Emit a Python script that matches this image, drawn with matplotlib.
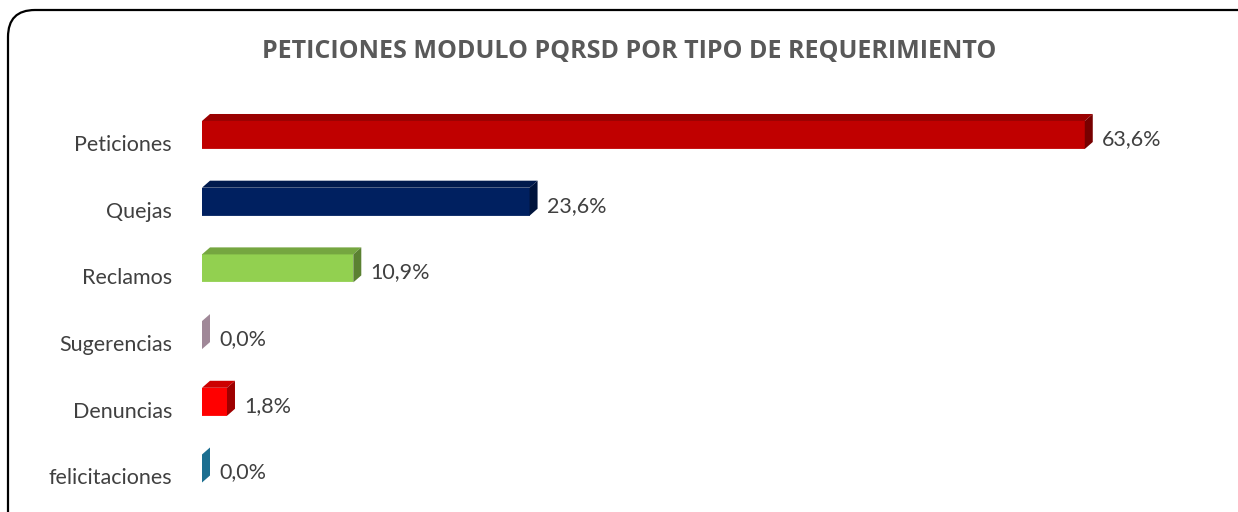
import numpy as np
import matplotlib.pyplot as plt
from matplotlib.patches import Polygon, FancyBboxPatch
from matplotlib.colors import to_rgb

# data
categorias = ['Peticiones', 'Quejas', 'Reclamos', 'Sugerencias', 'Denuncias', 'felicitaciones']
porcentajes = [63.6, 23.6, 10.9, 0.0, 1.8, 0.0]
colores = ['#C00000', '#002060', '#92D050', '#A08898', '#FF0000', '#1B6E90']
titulo = 'PETICIONES MODULO PQRSD POR TIPO DE REQUERIMIENTO'

plt.rcParams['font.family'] = ['Lato', 'DejaVu Sans']

fig = plt.figure(figsize=(12.38, 5.12), dpi=100)
W, H = 1238., 512.

# rounded frame round the whole chart
frame = FancyBboxPatch((0.08, -0.5), 12.6, 5.12 - 0.1 + 0.5,
                       boxstyle='round,pad=0,rounding_size=0.27',
                       transform=fig.dpi_scale_trans, fc='none', ec='black', lw=1.6)
fig.patches.append(frame)

# axes placed in pixels: left 202, right 1202, top 100, bottom 510
ax = fig.add_axes([202 / W, (H - 510) / H, 1000 / W, 410 / H])
ax.set_facecolor('none')
px_x = 13.88   # pixels per percent
px_y = 66.7    # pixels per category
ax.set_xlim(0, 1000 / px_x)
ax.set_ylim((510 - 143) / px_y, (100 - 143) / px_y)

pos = np.arange(len(categorias))
alto = 0.42
off = 0.12
dx = 8 / px_x
dy = 7 / px_y


def shade(c, f):
    r, g, b = to_rgb(c)
    return (r * f, g * f, b * f)


for i, (v, c) in enumerate(zip(porcentajes, colores)):
    y0 = pos[i] - off - alto / 2   # top of front face (inverted axis)
    y1 = pos[i] - off + alto / 2   # bottom of front face
    if v > 0:
        ax.barh(pos[i] - off, v, height=alto, color=c, lw=0, zorder=3)
        top = Polygon([(0, y0), (dx, y0 - dy), (v + dx, y0 - dy), (v, y0)],
                      closed=True, fc=shade(c, 0.8), ec='none', zorder=3)
        ax.add_patch(top)
        ax.plot([0, v], [y1, y1], color=(1, 1, 1, 0.45), lw=1, zorder=4)
    side = Polygon([(v, y0), (v + dx, y0 - dy), (v + dx, y1 - dy), (v, y1)],
                   closed=True, fc=shade(c, 0.62 if v > 0 else 1.0), ec='none', zorder=3)
    ax.add_patch(side)
    etiqueta = f'{v:.1f}%'.replace('.', ',')
    ax.text(v + dx + 9 / px_x, pos[i] - 0.06, etiqueta, va='center', ha='left',
            fontsize=15.5, color='#404040', zorder=5)

ax.set_yticks(pos)
ax.set_yticklabels(categorias, fontsize=15.5, color='#404040')
ax.tick_params(axis='y', length=0, pad=21.6)
ax.set_xticks([])
for s in ax.spines.values():
    s.set_visible(False)

fig.text(629 / W, 1 - 51 / H, titulo, ha='center', va='center',
         fontsize=18, fontweight='bold', color='#595959',
         family=['Open Sans', 'DejaVu Sans'])

fig.savefig('out.png', dpi=100)
